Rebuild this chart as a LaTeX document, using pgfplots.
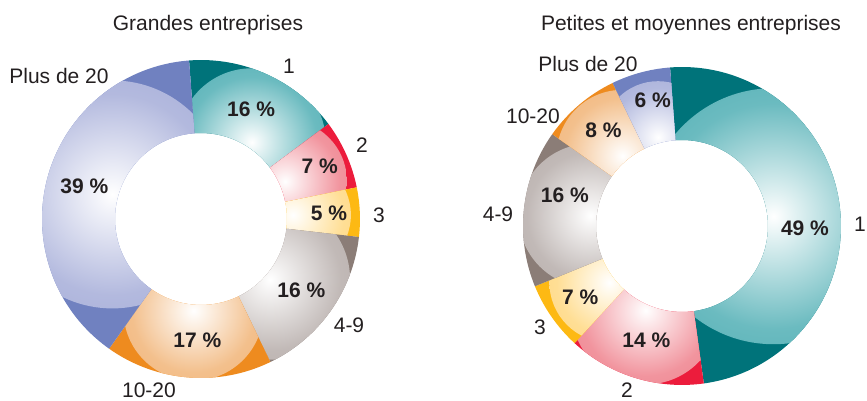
\documentclass[border=0pt]{standalone}
\usepackage{pgfplots}
\pgfplotsset{compat=1.18}
\usepackage{pgfplotstable}
\usepackage{fontspec}
\setmainfont{Liberation Sans}

\definecolor{txt}{HTML}{231F20}
\definecolor{tealD}{RGB}{0,115,122}
\definecolor{tealM}{RGB}{70,170,176}
\definecolor{redD}{RGB}{236,28,60}
\definecolor{redM}{RGB}{238,122,134}
\definecolor{yelD}{RGB}{253,185,19}
\definecolor{yelM}{RGB}{255,214,122}
\definecolor{greyD}{RGB}{139,125,119}
\definecolor{greyM}{RGB}{178,168,165}
\definecolor{oraD}{RGB}{238,139,31}
\definecolor{oraM}{RGB}{240,176,112}
\definecolor{lavD}{RGB}{112,129,192}
\definecolor{lavM}{RGB}{160,168,214}
\colorlet{hlcol}{white}

% highlight inside each slice
\pgfdeclareradialshading[hlcol]{hilite}{\pgfpointorigin}{%
  color(0bp)=(white); color(4bp)=(hlcol!15!white); color(22bp)=(hlcol!80!white);
  color(40bp)=(hlcol); color(50bp)=(hlcol)}

% lab = size class, val = percent, lx/ly = label position (px, y down)
% pr/pa = radius (px) and clockwise offset (deg) of the percent label
% hr/ha = radius (px) and clockwise offset (deg) of the highlight
\pgfplotstableread[col sep=comma]{
lab,val,dark,mid,lx,ly,pr,pa,hr,ha
1,16,tealD,tealM,289,66,121,0,74,9
2,7,redD,redM,362,145,130,0,62,0
3,5,yelD,yelM,379,215,128,0,58,0
4-9,16,greyD,greyM,349,325,123,0,80,6
10-20,17,oraD,oraM,149,390,121,-3,70,0
Plus de 20,39,lavD,lavM,59,76,121,0,114,0
}\grandes

\pgfplotstableread[col sep=comma]{
lab,val,dark,mid,lx,ly,pr,pa,hr,ha
1,49,tealD,tealM,860,224,123,7,128,0
2,14,redD,redM,627,390,120,0,74,6
3,7,yelD,yelM,540,327,124,0,60,-3
4-9,16,greyD,greyM,498,214,121,8,72,0
10-20,8,oraD,oraM,533,116,124,1,66,0
Plus de 20,6,lavD,lavM,588,64,129,2,56,0
}\pme

% #1 table, #2/#3 centre in axis units
\newcommand\drawdonut[3]{%
  \xdef\curang{94.3}%
  \pgfplotstablegetrowsof{#1}%
  \pgfmathtruncatemacro\lastrow{\pgfplotsretval-1}%
  \foreach \i in {0,...,\lastrow}{%
    \pgfplotstablegetelem{\i}{val}\of#1\let\sval\pgfplotsretval
    \pgfplotstablegetelem{\i}{dark}\of#1\let\sdark\pgfplotsretval
    \pgfplotstablegetelem{\i}{mid}\of#1\let\smid\pgfplotsretval
    \pgfplotstablegetelem{\i}{lab}\of#1\let\slab\pgfplotsretval
    \pgfplotstablegetelem{\i}{lx}\of#1\let\slx\pgfplotsretval
    \pgfplotstablegetelem{\i}{ly}\of#1\let\sly\pgfplotsretval
    \pgfplotstablegetelem{\i}{pr}\of#1\let\spr\pgfplotsretval
    \pgfplotstablegetelem{\i}{pa}\of#1\let\spa\pgfplotsretval
    \pgfplotstablegetelem{\i}{hr}\of#1\let\shr\pgfplotsretval
    \pgfplotstablegetelem{\i}{ha}\of#1\let\sha\pgfplotsretval
    \pgfmathsetmacro\angA{\curang}%
    \pgfmathsetmacro\angB{\curang-3.6*\sval}%
    \pgfmathsetmacro\angM{(\angA+\angB)/2}%
    \pgfmathsetmacro\hang{\angM-\sha}%
    \pgfmathsetmacro\hrad{0.02*\shr}%
    \pgfmathsetmacro\pang{\angM-\spa}%
    \pgfmathsetmacro\prad{0.02*\spr}%
    \pgfmathsetmacro\lyy{401-\sly}%
    \fill[fill=\sdark] ([shift={(\angA:3.18cm)}]axis cs:#2,#3)
      arc[start angle=\angA, end angle=\angB, radius=3.18cm]
      -- ([shift={(\angB:1.72cm)}]axis cs:#2,#3)
      arc[start angle=\angB, end angle=\angA, radius=1.72cm] -- cycle;
    \begin{scope}
      \clip ([shift={(\angA:3.18cm)}]axis cs:#2,#3)
        arc[start angle=\angA, end angle=\angB, radius=3.18cm]
        -- ([shift={(\angB:1.72cm)}]axis cs:#2,#3)
        arc[start angle=\angB, end angle=\angA, radius=1.72cm] -- cycle;
      \colorlet{hlcol}{\smid}%
      \shade[shading=hilite] ([shift={(\hang:1.84cm)}]axis cs:#2,#3) circle[radius=\hrad cm];
    \end{scope}
    \node[pct] at ([shift={(\pang:\prad cm)}]axis cs:#2,#3) {\sval~\%};
    \node[lbl] at (axis cs:\slx,\lyy) {\slab};
    \xdef\curang{\angB}%
  }%
}

\begin{document}
\begin{tikzpicture}[
  lbl/.style={font=\fontsize{11.95}{14}\selectfont, text=txt, inner sep=0pt},
  pct/.style={lbl, font=\fontsize{11.95}{14}\selectfont\bfseries}]
\begin{axis}[
    x=0.02cm, y=0.02cm,
    xmin=0, xmax=867, ymin=0, ymax=401,
    hide axis, clip=false]
% keep the page as large as the whole frame
\path (axis cs:0,0) rectangle (axis cs:867,401);
\pgfplotsextra{\drawdonut{\grandes}{201}{182}}
\pgfplotsextra{\drawdonut{\pme}{682}{175}}
\node[lbl, anchor=base] at (axis cs:208,370) {Grandes entreprises};
\node[lbl, anchor=base] at (axis cs:691,370) {Petites et moyennes entreprises};
\end{axis}
\end{tikzpicture}
\end{document}
